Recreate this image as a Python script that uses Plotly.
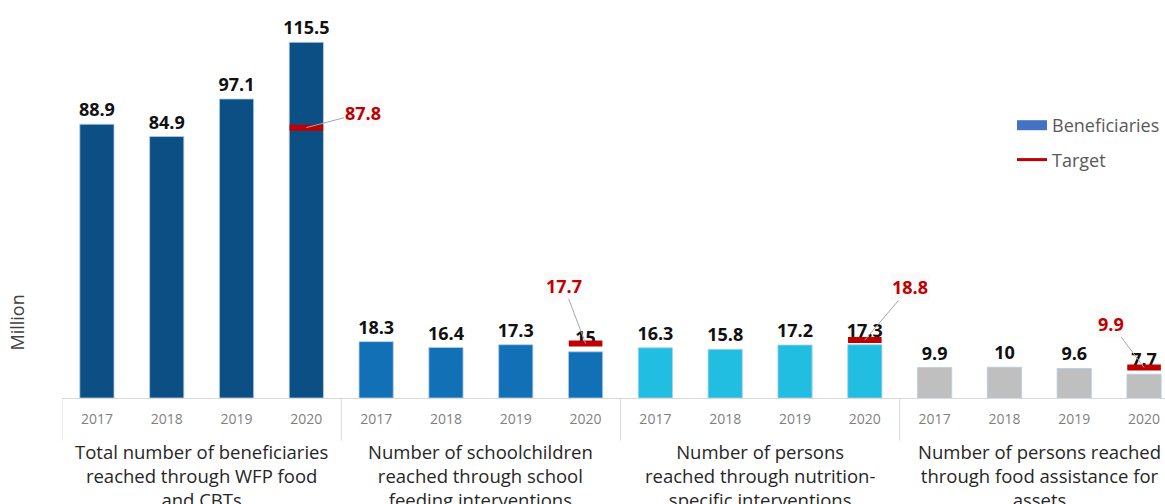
import plotly.graph_objects as go

# ---- data ----
groups = [
    "Total number of beneficiaries<br>reached through WFP food<br>and CBTs",
    "Number of schoolchildren<br>reached through school<br>feeding interventions",
    "Number of persons<br>reached through nutrition-<br>specific interventions",
    "Number of persons reached<br>through food assistance for<br>assets",
]
years = ["2017", "2018", "2019", "2020"]
beneficiaries = [
    [88.9, 84.9, 97.1, 115.5],
    [18.3, 16.4, 17.3, 15],
    [16.3, 15.8, 17.2, 17.3],
    [9.9, 10, 9.6, 7.7],
]
targets = [87.8, 17.7, 18.8, 9.9]
target_year = "2020"

# ---- styles ----
group_colors = ["#0B4F84", "#1270B7", "#22BEE1", "#BFBFBF"]
red = "#C00000"
font_family = "Open Sans"
# label offsets (pixels) for target call-outs
target_offsets = [(57, -15), (-22, -58), (45, -53), (-33, -44)]

ny = len(years)
xs, ys, cols, ticktext = [], [], [], []
for gi, vals in enumerate(beneficiaries):
    for yi, v in enumerate(vals):
        xs.append(gi * ny + yi)
        ys.append(v)
        cols.append(group_colors[gi])
        ticktext.append(years[yi])

fig = go.Figure()
fig.add_trace(go.Bar(
    x=xs, y=ys, width=0.49,
    marker=dict(color=cols, line=dict(color="rgba(180,205,230,0.8)", width=1)),
    text=[f"{v:g}" for v in ys], textposition="outside", constraintext="none",
    textfont=dict(family=font_family, size=18, color="#111111", weight=700),
    cliponaxis=False, showlegend=False, hoverinfo="skip",
))

tx = [gi * ny + years.index(target_year) for gi in range(len(groups))]
fig.add_trace(go.Scatter(
    x=tx, y=targets, mode="markers",
    marker=dict(symbol="line-ew", size=24, line=dict(width=6, color=red)),
    showlegend=False, hoverinfo="skip", cliponaxis=False,
))

# legend dummies
fig.add_trace(go.Scatter(x=[None], y=[None], name="Beneficiaries", mode="lines",
                         line=dict(color="#4472C4", width=11), legendgroup="a"))
fig.add_trace(go.Scatter(x=[None], y=[None], name="Target", mode="lines",
                         line=dict(color=red, width=3), legendgroup="b"))

# target call-outs
for x, t, (ax, ay) in zip(tx, targets, target_offsets):
    fig.add_annotation(
        x=x, y=t, xref="x", yref="y", text=f"<b>{t:g}</b>",
        showarrow=True, arrowhead=0, arrowwidth=1, arrowcolor="#A6A6A6",
        ax=ax, ay=ay, bgcolor="#FAFAFA",
        font=dict(family=font_family, size=18, color=red),
    )

# group labels
for gi, g in enumerate(groups):
    fig.add_annotation(
        x=gi * ny + (ny - 1) / 2, y=-0.10, xref="x", yref="paper",
        text=g, showarrow=False, yanchor="top", xanchor="center",
        font=dict(family=font_family, size=18.5, color="#262626"),
    )

# group dividers in the year row
for gi in range(len(groups)):
    xd = gi * ny - 0.5
    fig.add_shape(type="line", xref="x", yref="paper", x0=xd, x1=xd,
                  y0=0, y1=-0.11, line=dict(color="#D9D9D9", width=1))

fig.add_annotation(
    x=0.0, y=24.5, xref="paper", yref="y", xshift=-59, text="Million",
    textangle=-90, showarrow=False,
    font=dict(family=font_family, size=18, color="#404040"),
)

fig.update_layout(
    width=1165, height=504,
    margin=dict(l=62, r=0, t=10, b=106),
    paper_bgcolor="white", plot_bgcolor="white",
    font=dict(family=font_family),
    barmode="overlay",
    xaxis=dict(
        tickmode="array", tickvals=xs, ticktext=ticktext,
        range=[-0.5, 15.3], showgrid=False, zeroline=False,
        showline=True, linecolor="#D9D9D9", linewidth=1,
        ticks="", ticklabelstandoff=8,
        tickfont=dict(family=font_family, size=14, color="#7F7F7F"),
    ),
    yaxis=dict(range=[0, 126], showgrid=False, zeroline=False,
               showticklabels=False, showline=False, ticks=""),
    legend=dict(
        x=1.0, y=0.75, xanchor="right", yanchor="top",
        bgcolor="rgba(0,0,0,0)", traceorder="grouped", tracegroupgap=8,
        font=dict(family=font_family, size=18, color="#595959"),
        itemwidth=30,
    ),
)

fig.write_html(
    "out.html",
    config={"displayModeBar": False},
    post_script="document.body.style.margin='0';document.body.style.overflow='hidden';",
)
